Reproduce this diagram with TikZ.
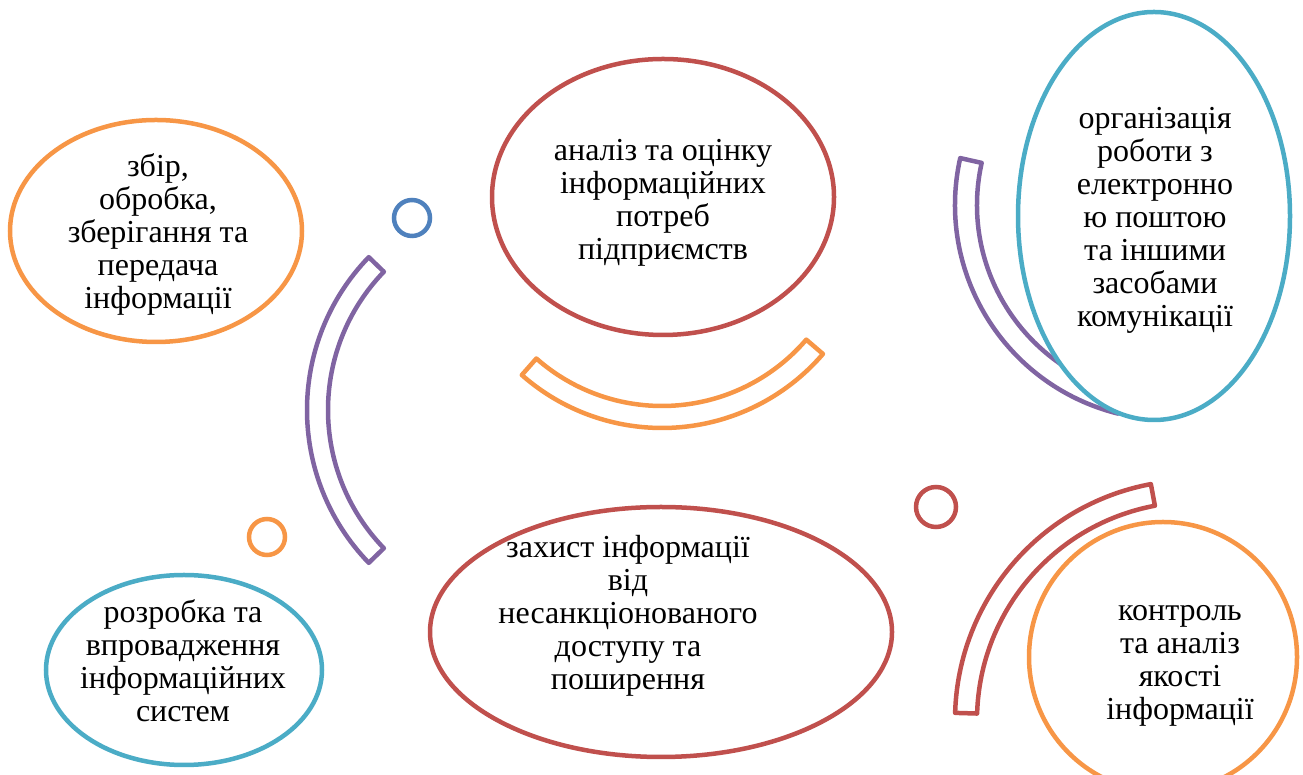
\documentclass[tikz,border=0pt]{standalone}
\usepackage{fontspec}
\setmainfont{Liberation Serif}
\usetikzlibrary{shapes.geometric,calc}
\definecolor{ofOrange}{HTML}{F79646}
\definecolor{ofRed}{HTML}{C0504D}
\definecolor{ofTeal}{HTML}{4BACC6}
\definecolor{ofPurple}{HTML}{8064A2}
\definecolor{ofBlue}{HTML}{4F81BD}
\begin{document}
\begin{tikzpicture}[x=1pt,y=1pt,
  bubble/.style={ellipse,draw=#1,line width=4.5pt,fill=white,inner sep=0pt},
  ring/.style={circle,draw=#1,line width=4.5pt,inner sep=0pt},
  band/.style={draw=#1,line width=4.5pt,line join=round},
  txt/.style={align=center,font=\fontsize{32}{33}\selectfont}]
\useasboundingbox (0,0) rectangle (1303,775);
% curved bands
\foreach \cx/\cy/\a/\b/\ro/\ri/\col in {527/365/136/224/220/199/ofPurple,
    662/559/228.6/319.4/212/190/ofOrange,
    1170/570/167.4/256/215/193/ofPurple,
    1195/55/100.6/178.3/240/218/ofRed}
  \draw[band=\col] ($(\cx,\cy)+(\a:\ro)$) arc[start angle=\a,end angle=\b,radius=\ro]
    -- ($(\cx,\cy)+(\b:\ri)$) arc[start angle=\b,end angle=\a,radius=\ri] -- cycle;
% ellipses
\node[bubble=ofOrange,minimum width=292,minimum height=222] (collect) at (156,544) {};
\node[bubble=ofRed,minimum width=342,minimum height=276] (analysis) at (663,578) {};
\node[bubble=ofTeal,minimum width=272,minimum height=408] (mail) at (1154,559) {};
\node[bubble=ofTeal,minimum width=276,minimum height=190] (develop) at (184,105) {};
\node[bubble=ofRed,minimum width=462,minimum height=250] (protect) at (661,143) {};
\node[bubble=ofOrange,minimum width=268,minimum height=270] (control) at (1163,118) {};
% small rings
\node[ring=ofBlue,minimum size=36] (r1) at (412,557) {};
\node[ring=ofOrange,minimum size=36] (r2) at (267,238) {};
\node[ring=ofRed,minimum size=40] (r3) at (936,268) {};
% texts
\node[txt] (tcollect) at (158,541) {збір,\\обробка,\\зберігання та\\передача\\інформації};
\node[txt] (tanalysis) at (663,572) {аналіз та оцінку\\інформаційних\\потреб\\підприємств};
\node[txt] (tmail) at (1155,555) {організація\\роботи з\\електронно\\ю поштою\\та іншими\\засобами\\комунікації};
\node[txt] (tdevelop) at (183,114) {розробка та\\впровадження\\інформаційних\\систем};
\node[txt] (tprotect) at (628,159) {захист інформації\\від\\несанкціонованого\\доступу та\\поширення};
\node[txt] (tcontrol) at (1180,109) {контроль\\та аналіз\\якості\\інформації};
\end{tikzpicture}
\end{document}
